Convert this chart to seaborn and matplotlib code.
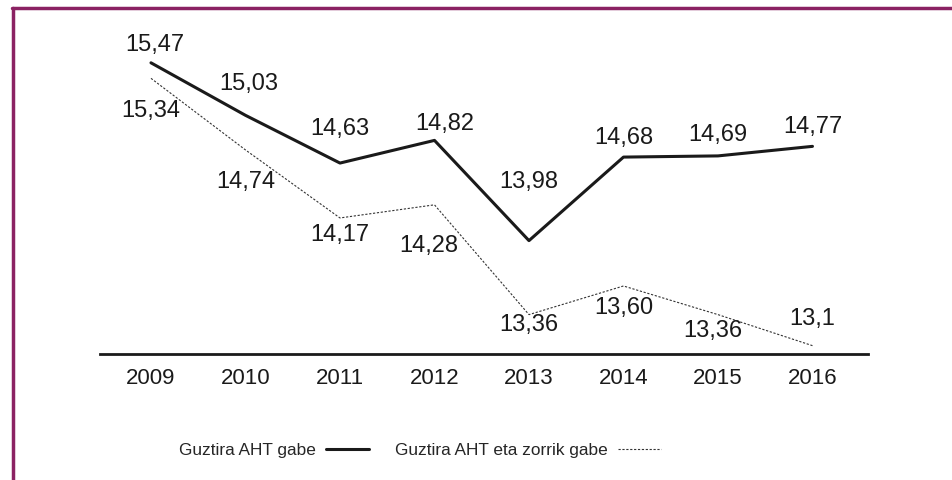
import matplotlib
matplotlib.use("Agg")
import matplotlib.pyplot as plt
import seaborn as sns
import pandas as pd
from matplotlib.lines import Line2D

sns.set_theme(style="white")
plt.rcParams["font.family"] = ["Liberation Sans", "DejaVu Sans"]

# %% data
years = ["2009", "2010", "2011", "2012", "2013", "2014", "2015", "2016"]
total_no_aht = [15.47, 15.03, 14.63, 14.82, 13.98, 14.68, 14.69, 14.77]
total_no_aht_debt = [15.34, 14.74, 14.17, 14.28, 13.36, 13.60, 13.36, 13.1]
labels_no_aht = ["15,47", "15,03", "14,63", "14,82", "13,98", "14,68", "14,69", "14,77"]
labels_no_aht_debt = ["15,34", "14,74", "14,17", "14,28", "13,36", "13,60", "13,36", "13,1"]
series_names = ["Guztira AHT gabe", "Guztira AHT eta zorrik gabe"]

df = pd.DataFrame({
    "year": list(range(len(years))) * 2,
    "value": total_no_aht + total_no_aht_debt,
    "series": [series_names[0]] * len(years) + [series_names[1]] * len(years),
})

# label offsets in pixels (dx, dy)
off_solid = [(4, 18), (3, 31), (0, 34), (10, 16), (0, 59), (0, 19), (0, 21), (0, 19)]
off_dot = [(0, -33), (0, -32), (0, -17), (-6, -41), (0, -10), (0, -22), (-5, -16), (0, 27)]

fig = plt.figure(figsize=(9.52, 4.8), dpi=100)
fig.patch.set_facecolor("white")
ax = fig.add_axes([0.105, 0.2625, 0.807, 0.675])

sns.lineplot(data=df, x="year", y="value", hue="series", style="series",
             palette=["#1a1a1a", "#333333"], dashes=[(None, None), (2, 1.5)],
             linewidth=1.0, legend=False, ax=ax)
lines = ax.get_lines()
lines[0].set_linewidth(2.2)
lines[1].set_linewidth(0.8)

for i in range(len(years)):
    ax.annotate(labels_no_aht[i], (i, total_no_aht[i]), textcoords="offset pixels",
                xytext=off_solid[i], ha="center", va="center", fontsize=17, color="#1a1a1a")
    ax.annotate(labels_no_aht_debt[i], (i, total_no_aht_debt[i]), textcoords="offset pixels",
                xytext=off_dot[i], ha="center", va="center", fontsize=17, color="#1a1a1a")

ax.set_xlim(-0.54, 7.59)
ax.set_ylim(13.03, 15.745)
ax.set_xticks(range(len(years)))
ax.set_xticklabels(years, fontsize=16, color="#1a1a1a")
ax.set_yticks([])
ax.set_xlabel("")
ax.set_ylabel("")
for s in ["top", "right", "left"]:
    ax.spines[s].set_visible(False)
ax.spines["bottom"].set_linewidth(2)
ax.spines["bottom"].set_color("#1a1a1a")
ax.tick_params(axis="x", length=0, pad=10)
ax.set_facecolor("white")

handles = [Line2D([], [], color="#1a1a1a", linewidth=2.2),
           Line2D([], [], color="#333333", linewidth=0.8, linestyle=(0, (2, 1.5)))]
fig.legend(handles, series_names, loc="center", bbox_to_anchor=(0.441, 0.0625), ncol=2,
           frameon=False, fontsize=12.4, markerfirst=False, handlelength=2.5,
           columnspacing=1.5, handletextpad=0.6)

# purple frame on left and top
fig.add_artist(Line2D([0.0136, 0.0136], [0.0, 0.9833], transform=fig.transFigure,
                      color="#8B2263", linewidth=2.5))
fig.add_artist(Line2D([0.0125, 1.0], [0.9833, 0.9833], transform=fig.transFigure,
                      color="#8B2263", linewidth=2.5))

fig.savefig("out.png", dpi=100, facecolor="white")
